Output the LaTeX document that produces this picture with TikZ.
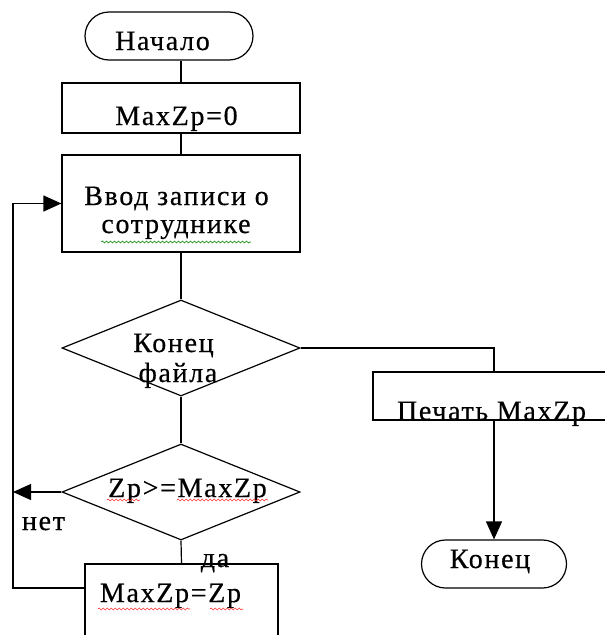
\documentclass[tikz,border=0pt]{standalone}
\usepackage{fontspec}
\setmainfont{Liberation Serif}[LetterSpace=6,FakeBold=0.5]
\usetikzlibrary{shapes.geometric,shapes.misc,arrows.meta,decorations.pathmorphing}

\tikzset{
  every node/.style={font=\fontsize{28}{30}\selectfont},
  base/.style={draw,line width=1.2pt,inner sep=0pt},
  terminal/.style={base,rounded rectangle,minimum height=48pt},
  process/.style={base,rectangle,minimum width=238pt},
  decision/.style={base,diamond,minimum width=238pt,minimum height=96pt},
  txt/.style={inner sep=0pt,anchor=base},
  line/.style={line width=1.2pt},
  arr/.style={line,-{Triangle[length=18pt,width=16pt]}},
  wavy/.style={decorate,decoration={snake,amplitude=1pt,segment length=4pt},line width=0.6pt}
}

\begin{document}
\begin{tikzpicture}[x=1pt,y=-1pt]
\useasboundingbox (0,0) rectangle (605,635);
\clip (0,0) rectangle (605,635);

\node[terminal,minimum width=168pt] (start) at (169,36) {};
\node[txt] (startt) at (162.5,50) {Начало};

\node[process,minimum height=50pt] (init) at (181,108) {};
\node[txt] (initt) at (176.5,125) {MaxZp=0};

\node[process,minimum height=97pt] (rec) at (181,203.5) {};
\node[txt] (rec1) at (176.5,205) {Ввод записи о};
\node[txt] (rec2) at (176,233) {сотруднике};

\node[decision] (eof) at (181,348) {};
\node[txt] (eof1) at (173.5,352) {Конец};
\node[txt] (eof2) at (178,382) {файла};

\node[decision] (cmp) at (181,492) {};
\node[txt] (cmpt) at (187.5,497) {Zp>=MaxZp};

\node[base,minimum width=193pt,minimum height=82pt] (upd) at (181.5,605) {};
\node[txt] (updt) at (170.5,602) {MaxZp=Zp};

\node[base,minimum width=267pt,minimum height=48pt] (prn) at (506.5,396) {};
\node[txt] (prnt) at (491.5,420) {Печать MaxZp};

\node[terminal,minimum width=145pt] (fin) at (494,564) {};
\node[txt] (fint) at (490,568) {Конец};

\node[txt] (no) at (43.5,530) {нет};
\node[txt] (yes) at (215,567) {да};

\coordinate (lp) at (13,588);

\draw[line] (init.north) -- (init.north |- start.south);
\draw[line] (init.south) -- (rec.north);
\draw[line] (rec.south) -- (eof.north);
\draw[line] (eof.south) -- (cmp.north);
\draw[line] (cmp.south) -- (upd.north);
\draw[arr] (cmp.west) -- (cmp.west -| lp);
\draw[arr] (upd.west |- lp) -- (lp) |- (rec.west);
\draw[line] (eof.east) -| (prn.north -| fin.north);
\draw[arr] (prn.south -| fin.north) -- (fin.north);

\draw[wavy,green!55!black] ([yshift=-9pt]rec2.base west) -- ([yshift=-9pt]rec2.base east);
\draw[wavy,red!80] (107,500) -- (140,500);
\draw[wavy,red!80] (177,500) -- (268,500);
\draw[wavy,red!80] (98,609) -- (190,609);
\draw[wavy,red!80] (210,609) -- (243,609);
\end{tikzpicture}
\end{document}
